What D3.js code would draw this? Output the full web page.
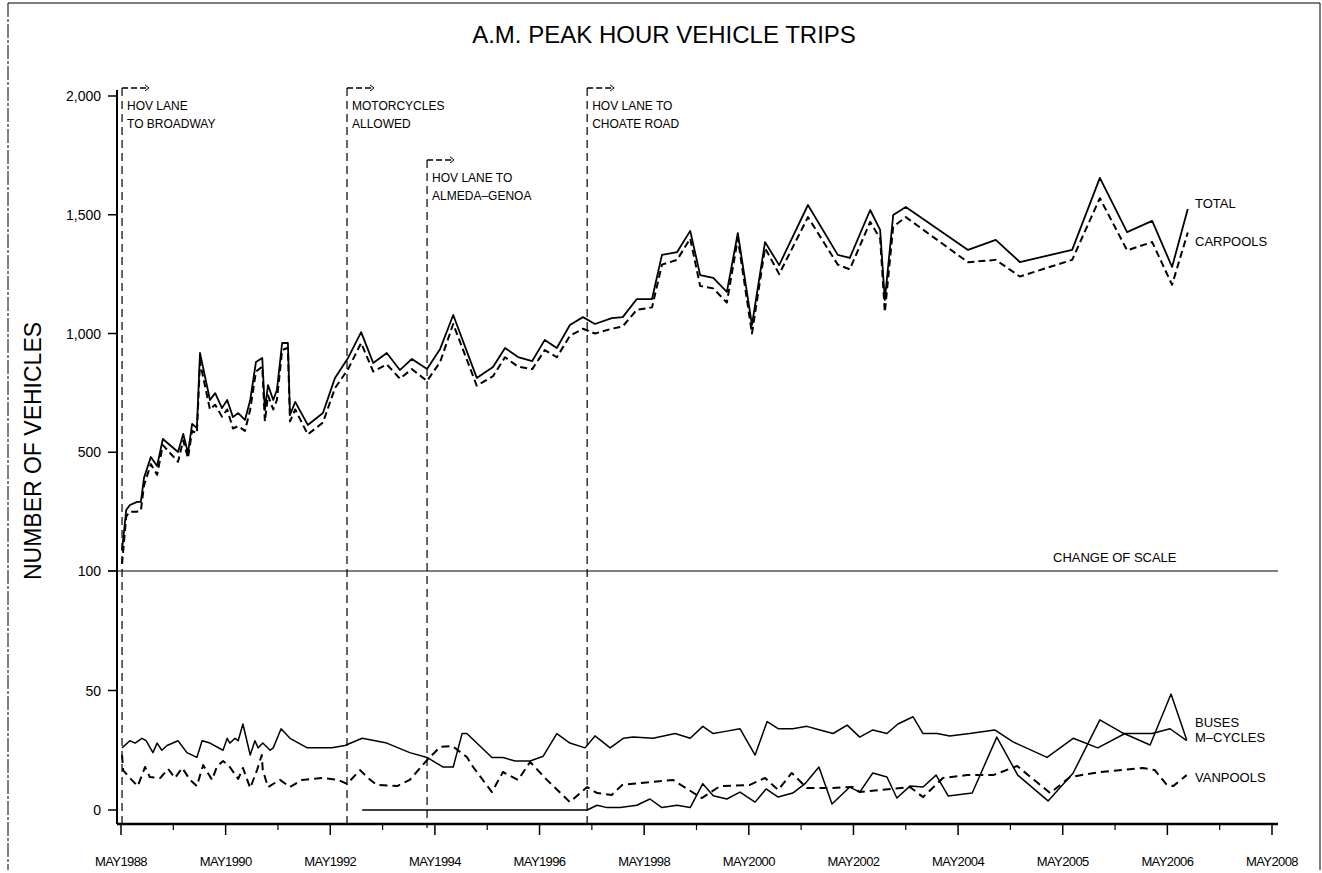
<!DOCTYPE html>
<html>
<head>
<meta charset="utf-8">
<script src="https://cdn.jsdelivr.net/npm/d3@7"></script>
<style>
  body { margin: 0; background: #fff; }
  text { font-family: "Liberation Sans Narrow", "Liberation Sans", Arial, sans-serif; fill: #000; }
</style>
</head>
<body>
<div id="chart"></div>
<script>
// x ticks, two years apart (labels as printed on the original)
const tickYears = [1988, 1990, 1992, 1994, 1996, 1998, 2000, 2002, 2004, 2006, 2008, 2010];
const tickLabels = ["MAY1988", "MAY1990", "MAY1992", "MAY1994", "MAY1996", "MAY1998",
  "MAY2000", "MAY2002", "MAY2004", "MAY2005", "MAY2006", "MAY2008"];

// upper panel (total, carpools), read against the 0-2000 scale
const bigYears = [1988.02, 1988.10, 1988.17, 1988.31, 1988.38, 1988.44, 1988.57, 1988.69, 1988.80, 1989.09,
  1989.19, 1989.28, 1989.36, 1989.45, 1989.51, 1989.70, 1989.80, 1989.93, 1990.03, 1990.14,
  1990.24, 1990.37, 1990.47, 1990.58, 1990.70, 1990.75, 1990.81, 1990.91, 1990.98, 1991.08,
  1991.19, 1991.23, 1991.33, 1991.57, 1991.86, 1992.09, 1992.34, 1992.59, 1992.82, 1993.08,
  1993.33, 1993.56, 1993.85, 1994.10, 1994.35, 1994.80, 1995.11, 1995.34, 1995.59, 1995.86,
  1996.10, 1996.33, 1996.58, 1996.83, 1997.06, 1997.38, 1997.59, 1997.86, 1998.15, 1998.34,
  1998.63, 1998.88, 1999.07, 1999.32, 1999.58, 1999.79, 2000.06, 2000.31, 2000.58, 2001.13,
  2001.70, 2001.93, 2002.32, 2002.51, 2002.60, 2002.76, 2003.00, 2004.19, 2004.72, 2005.18,
  2006.18, 2006.71, 2007.23, 2007.71, 2008.09, 2008.39];
const total = [88, 257, 278, 291, 291, 392, 480, 442, 556, 501,
  577, 497, 619, 602, 918, 720, 749, 686, 720, 648,
  665, 636, 720, 880, 897, 678, 783, 720, 762, 960,
  960, 657, 712, 615, 665, 813, 897, 1006, 876, 918,
  846, 893, 851, 935, 1078, 813, 859, 939, 901, 884,
  973, 939, 1036, 1069, 1040, 1065, 1069, 1145, 1145, 1331,
  1343, 1432, 1246, 1234, 1175, 1423, 1036, 1385, 1288, 1541,
  1331, 1318, 1520, 1436, 1141, 1499, 1533, 1352, 1394, 1301,
  1352, 1655, 1427, 1474, 1280, 1524];
const carpools = [30, 230, 250, 250, 255, 360, 450, 405, 530, 460,
  550, 475, 590, 580, 880, 680, 700, 650, 680, 600,
  610, 590, 680, 840, 860, 630, 740, 680, 720, 930,
  940, 630, 680, 575, 625, 770, 850, 960, 840, 870,
  810, 850, 800, 880, 1040, 780, 820, 900, 860, 850,
  930, 900, 990, 1020, 1000, 1020, 1030, 1100, 1110, 1290,
  1310, 1400, 1200, 1190, 1130, 1400, 1000, 1360, 1250, 1490,
  1290, 1270, 1470, 1400, 1090, 1450, 1490, 1300, 1310, 1240,
  1310, 1570, 1350, 1385, 1205, 1425];

// lower panel, 0-100 scale
const busYears = [1988.02, 1988.17, 1988.27, 1988.40, 1988.48, 1988.61, 1988.69, 1988.78, 1988.88, 1989.09,
  1989.26, 1989.45, 1989.55, 1989.70, 1989.95, 1990.03, 1990.08, 1990.18, 1990.24, 1990.33,
  1990.47, 1990.56, 1990.62, 1990.71, 1990.85, 1990.91, 1991.06, 1991.23, 1991.56, 1992.03,
  1992.28, 1992.61, 1993.08, 1993.52, 1993.85, 1994.15, 1994.35, 1994.52, 1994.61, 1995.09,
  1995.30, 1995.53, 1995.82, 1996.07, 1996.33, 1996.58, 1996.87, 1997.06, 1997.35, 1997.60,
  1997.79, 1998.17, 1998.59, 1998.88, 1999.12, 1999.32, 1999.58, 1999.83, 2000.12, 2000.35,
  2000.56, 2000.84, 2001.11, 2001.36, 2001.61, 2001.88, 2002.12, 2002.37, 2002.64, 2002.85,
  2003.14, 2003.33, 2003.60, 2003.84, 2004.22, 2004.70, 2005.05, 2005.70, 2006.20, 2006.67,
  2007.19, 2007.71, 2008.05, 2008.37];
const buses = [26, 29, 28, 30, 29, 24, 28, 25, 27, 29,
  24, 22, 29, 28, 25, 30, 28, 30, 29, 36,
  23, 29, 26, 28, 25, 26, 34, 30, 26, 26,
  27, 30, 28, 24, 22, 18, 18, 32, 32, 22,
  22, 20.5, 20.5, 22.5, 32, 28, 26, 31, 26, 30,
  30.5, 30, 32, 30, 35, 32, 33, 34, 23, 37,
  34, 34, 35, 33.5, 32, 35.5, 30.5, 33.5, 32, 36,
  39, 32, 32, 31, 32, 33.5, 28.5, 22, 30, 26,
  32, 32, 34, 29];

const cycleYears = [1992.61, 1996.91, 1997.10, 1997.29, 1997.54, 1997.86, 1998.11, 1998.34, 1998.63, 1998.88,
  1999.12, 1999.32, 1999.58, 1999.83, 2000.12, 2000.33, 2000.56, 2000.84, 2001.07, 2001.34,
  2001.59, 2001.93, 2002.12, 2002.37, 2002.64, 2002.83, 2003.08, 2003.33, 2003.58, 2003.81,
  2004.27, 2004.74, 2005.14, 2005.72, 2006.20, 2006.71, 2007.15, 2007.67, 2008.07, 2008.37];
const mcycles = [0, 0, 2, 1, 1, 2, 4.6, 1, 2, 1,
  11, 6, 4.6, 7.5, 3.3, 8.8, 5.4, 7.1, 10.9, 18,
  2.5, 9.6, 7.5, 15.5, 13.8, 5, 10, 9.6, 14.6, 5.9,
  7.1, 30.5, 14.6, 3.8, 15.5, 37.7, 32.2, 27.2, 48.5, 29.3];

const vanYears = [1988.02, 1988.04, 1988.17, 1988.32, 1988.46, 1988.55, 1988.75, 1988.90, 1989.03, 1989.17,
  1989.32, 1989.45, 1989.57, 1989.74, 1989.83, 1989.95, 1990.08, 1990.24, 1990.33, 1990.47,
  1990.60, 1990.69, 1990.71, 1990.81, 1991.04, 1991.23, 1991.46, 1991.86, 1992.15, 1992.32,
  1992.57, 1992.72, 1992.89, 1993.28, 1993.52, 1993.85, 1994.10, 1994.33, 1994.61, 1994.73,
  1995.09, 1995.30, 1995.59, 1995.82, 1996.14, 1996.58, 1996.91, 1997.10, 1997.38, 1997.58,
  1998.55, 1999.10, 1999.45, 2000.02, 2000.31, 2000.56, 2000.82, 2001.11, 2001.55, 2001.99,
  2002.12, 2003.08, 2003.33, 2003.71, 2004.17, 2004.67, 2005.13, 2005.76, 2006.14, 2006.71,
  2007.53, 2007.76, 2007.99, 2008.11, 2008.37];
const vanpools = [23, 16.7, 13.4, 10, 18, 13.8, 13.4, 17.2, 13.4, 17.6,
  12.6, 10, 18.8, 12.6, 18, 20.5, 18, 13, 17.6, 9.2,
  16.7, 23, 16.7, 9.6, 12.6, 9.6, 12.6, 13.4, 12.6, 10.9,
  16.7, 13.4, 10.5, 10, 12.6, 20.9, 26.4, 26.8, 22.2, 18,
  7.5, 15.9, 12.6, 20.1, 12.6, 3.3, 9.6, 7.1, 6.3, 10.5,
  12.6, 5, 10, 10.5, 13.4, 8.4, 15.5, 9.2, 9.2, 9.6,
  7.5, 9.6, 5.4, 13.4, 14.6, 14.6, 18.4, 7.1, 13.8, 15.9,
  17.6, 16.7, 10.5, 10, 14.6];

// dated events: year, top of the marker (upper scale), caption lines
const eventYears = [1988.02, 1992.32, 1993.85, 1996.91];
const eventTops = [2034, 2034, 1731, 2034];
const eventText = [["HOV LANE", "TO BROADWAY"], ["MOTORCYCLES", "ALLOWED"],
  ["HOV LANE TO", "ALMEDA\u2013GENOA"], ["HOV LANE TO", "CHOATE ROAD"]];

const width = 1322, height = 873;

const svg = d3.select("#chart").append("svg")
  .attr("width", width)
  .attr("height", height);

const x = d3.scaleLinear().domain([1988, 2010]).range([121, 1272]);
const yUp = d3.scaleLinear().domain([0, 2000]).range([571, 96]);
const yLow = d3.scaleLinear().domain([0, 100]).range([810, 571]);
const axisY = 824, axisLeft = 117, axisRight = 1278;

// page frame
svg.append("line").attr("x1", 8).attr("x2", 1320).attr("y1", 3).attr("y2", 3)
  .attr("stroke", "#000").attr("stroke-width", 1);
svg.append("line").attr("x1", 8).attr("x2", 8).attr("y1", 3).attr("y2", 870)
  .attr("stroke", "#000").attr("stroke-width", 1).attr("stroke-dasharray", "14,2,3,2");
svg.append("line").attr("x1", 1320).attr("x2", 1320).attr("y1", 3).attr("y2", 870)
  .attr("stroke", "#000").attr("stroke-width", 1);

// title
svg.append("text")
  .attr("x", 664).attr("y", 43)
  .attr("text-anchor", "middle")
  .style("font-family", "'Liberation Sans', Arial, sans-serif")
  .style("font-size", "24px")
  .text("A.M. PEAK HOUR VEHICLE TRIPS");

// y axis title
svg.append("text")
  .attr("transform", "translate(41,451) rotate(-90)")
  .attr("text-anchor", "middle")
  .style("font-family", "'Liberation Sans', Arial, sans-serif")
  .style("font-size", "23px")
  .text("NUMBER OF VEHICLES");

// y axis with the two scales
svg.append("line").attr("x1", axisLeft).attr("x2", axisLeft).attr("y1", 90).attr("y2", axisY)
  .attr("stroke", "#000").attr("stroke-width", 2);

const yTicks = [500, 1000, 1500, 2000].map(v => ({ y: yUp(v), label: d3.format(",")(v) }))
  .concat([0, 50, 100].map(v => ({ y: yLow(v), label: String(v) })));

const gy = svg.append("g");
gy.selectAll("line").data(yTicks).join("line")
  .attr("x1", 108).attr("x2", axisLeft)
  .attr("y1", d => d.y).attr("y2", d => d.y)
  .attr("stroke", "#000").attr("stroke-width", 1.5);
gy.selectAll("text").data(yTicks).join("text")
  .attr("x", 101).attr("y", d => d.y + 5)
  .attr("text-anchor", "end")
  .style("font-size", "14px")
  .text(d => d.label);

// change of scale divider
svg.append("line").attr("x1", 108).attr("x2", axisRight)
  .attr("y1", yLow(100)).attr("y2", yLow(100))
  .attr("stroke", "#000").attr("stroke-width", 1.2);
svg.append("text")
  .attr("x", 1053).attr("y", yLow(100) - 9)
  .style("font-size", "13px")
  .text("CHANGE OF SCALE");

// x axis
svg.append("line").attr("x1", axisLeft).attr("x2", axisRight).attr("y1", axisY).attr("y2", axisY)
  .attr("stroke", "#000").attr("stroke-width", 2.5);
const minorYears = d3.range(1989, 2010, 2);
svg.append("g").selectAll("line").data(minorYears).join("line")
  .attr("x1", d => x(d)).attr("x2", d => x(d))
  .attr("y1", axisY).attr("y2", axisY + 6)
  .attr("stroke", "#000").attr("stroke-width", 1.2);
const gx = svg.append("g");
gx.selectAll("line").data(tickYears).join("line")
  .attr("x1", d => x(d)).attr("x2", d => x(d))
  .attr("y1", axisY).attr("y2", axisY + 11)
  .attr("stroke", "#000").attr("stroke-width", 1.5);
gx.selectAll("text").data(tickYears).join("text")
  .attr("x", d => x(d)).attr("y", 866)
  .attr("text-anchor", "middle")
  .style("font-size", "13px")
  .style("letter-spacing", "-0.6px")
  .text((d, i) => tickLabels[i]);

// event markers
const ev = svg.append("g").selectAll("g").data(eventYears).join("g");
ev.append("line")
  .attr("x1", d => x(d)).attr("x2", d => x(d))
  .attr("y1", (d, i) => yUp(eventTops[i])).attr("y2", axisY + 4)
  .attr("stroke", "#000").attr("stroke-width", 1.2)
  .attr("stroke-dasharray", "8,5");
ev.append("line")
  .attr("x1", d => x(d)).attr("x2", d => x(d) + 26)
  .attr("y1", (d, i) => yUp(eventTops[i])).attr("y2", (d, i) => yUp(eventTops[i]))
  .attr("stroke", "#000").attr("stroke-width", 1.5)
  .attr("stroke-dasharray", "6,3");
ev.append("path")
  .attr("d", (d, i) => {
    const ax = x(d) + 27, ay = yUp(eventTops[i]);
    return `M${ax - 4},${ay - 3}L${ax},${ay}L${ax - 4},${ay + 3}`;
  })
  .attr("fill", "none").attr("stroke", "#000").attr("stroke-width", 1);
ev.each(function (d, i) {
  const g = d3.select(this);
  eventText[i].forEach((t, k) => {
    g.append("text")
      .attr("x", x(d) + 5)
      .attr("y", yUp(eventTops[i]) + 22 + k * 18)
      .style("font-size", "12px")
      .text(t);
  });
});

// series
const lineUp = d3.line().x(d => x(d[0])).y(d => yUp(d[1]));
const lineLow = d3.line().x(d => x(d[0])).y(d => yLow(d[1]));

function draw(years, values, gen, width, dash) {
  svg.append("path")
    .datum(d3.zip(years, values))
    .attr("d", gen)
    .attr("fill", "none")
    .attr("stroke", "#000")
    .attr("stroke-width", width)
    .attr("stroke-linejoin", "round")
    .attr("stroke-dasharray", dash);
}

draw(bigYears, carpools, lineUp, 2, "7,4");
draw(bigYears, total, lineUp, 1.8, null);
draw(vanYears, vanpools, lineLow, 2, "8,5");
draw(busYears, buses, lineLow, 1.5, null);
draw(cycleYears, mcycles, lineLow, 1.5, null);

// line labels at the right end
const endLabels = [
  { text: "TOTAL", y: yUp(1550) },
  { text: "CARPOOLS", y: yUp(1390) },
  { text: "BUSES", y: yLow(37) },
  { text: "M\u2013CYCLES", y: yLow(30.5) },
  { text: "VANPOOLS", y: yLow(14) }
];
svg.append("g").selectAll("text").data(endLabels).join("text")
  .attr("x", 1195).attr("y", d => d.y + 5)
  .style("font-size", "13px")
  .text(d => d.text);
</script>
</body>
</html>
